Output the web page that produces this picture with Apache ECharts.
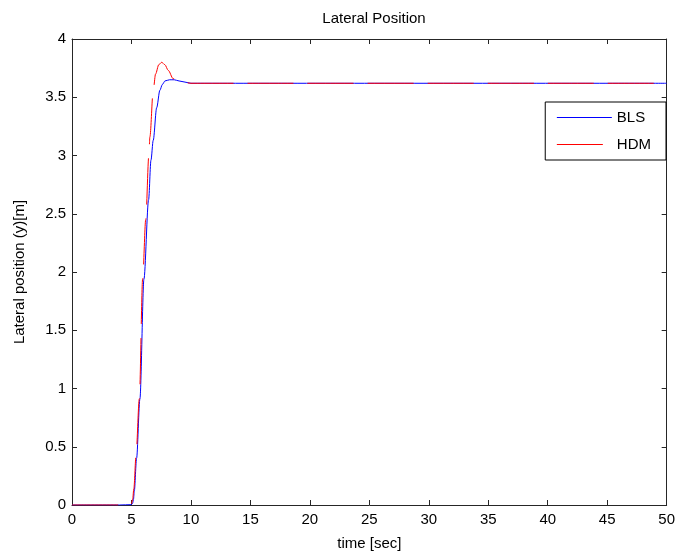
<!DOCTYPE html>
<html>
<head>
<meta charset="utf-8">
<script src="https://cdn.jsdelivr.net/npm/echarts@6/dist/echarts.min.js"></script>
<style>html,body{margin:0;padding:0;background:#fff;}#c{width:678px;height:556px;}</style>
</head>
<body>
<div id="c"></div>
<script>
var chartTitle = 'Lateral Position';
var seriesNames = ['BLS', 'HDM'];
var xName = 'time [sec]';
var yName = 'Lateral position (y)[m]';

var blsTime = [0, 4.0, 5.0, 5.1, 5.17, 5.24, 5.43, 5.71, 6.05, 6.44, 6.64, 6.83, 7.12, 7.39, 7.6, 7.82, 8.2, 8.6, 9.0, 9.5, 10, 50];
var blsPos  = [0, 0, 0.003, 0.015, 0.05, 0.12, 0.40, 0.91, 1.94, 2.62, 2.96, 3.13, 3.41, 3.56, 3.61, 3.64, 3.65, 3.65, 3.64, 3.63, 3.62, 3.62];

var hdmTime = [0, 4.8, 5.0, 5.1, 5.2, 5.38, 5.66, 5.94, 6.2, 6.46, 6.55, 6.83, 7.03, 7.3, 7.54, 7.8, 8.1, 8.5, 8.93, 9.3, 10, 50];
var hdmPos  = [0, 0, 0.01, 0.05, 0.14, 0.42, 0.91, 1.94, 2.45, 3.0, 3.16, 3.56, 3.70, 3.78, 3.80, 3.78, 3.73, 3.66, 3.64, 3.63, 3.62, 3.62];

function pairs(xs, ys) { return xs.map(function (x, i) { return [x, ys[i]]; }); }

var FONT = 'Liberation Sans, Arial, sans-serif';
var frameLine = { show: true, onZero: false, lineStyle: { color: '#262626', width: 1 } };
var tickIn = { show: true, inside: true, length: 5, lineStyle: { color: '#262626', width: 1 } };

var chart = echarts.init(document.getElementById('c'));
chart.setOption({
  animation: false,
  backgroundColor: '#fff',
  title: {
    text: chartTitle, left: 369, top: 6, textAlign: 'center',
    textStyle: { fontFamily: FONT, fontSize: 15, fontWeight: 'normal', color: '#000' }
  },
  grid: { left: 72, right: 11, top: 39, bottom: 49, containLabel: false },
  legend: {
    data: [
      { name: seriesNames[0], lineStyle: { color: '#0000ff', width: 1.2 } },
      { name: seriesNames[1], lineStyle: { color: '#ff0000', width: 1.2, type: [46, 14] } }
    ],
    orient: 'vertical', right: 12, top: 102,
    padding: [8, 15, 8, 11], itemGap: 12, itemWidth: 55, itemHeight: 14,
    itemStyle: { opacity: 0 },
    borderColor: '#000', borderWidth: 1, backgroundColor: '#fff',
    textStyle: { fontFamily: FONT, fontSize: 15, color: '#000' }
  },
  xAxis: [{
    type: 'value', min: 0, max: 50, interval: 5, position: 'bottom',
    name: xName, nameLocation: 'middle', nameGap: 31,
    nameTextStyle: { fontFamily: FONT, fontSize: 15, color: '#000' },
    axisLine: frameLine, axisTick: tickIn, splitLine: { show: false },
    axisLabel: { fontFamily: FONT, fontSize: 15, color: '#000', margin: 7 }
  }, {
    type: 'value', min: 0, max: 50, interval: 5, position: 'top',
    axisLine: frameLine, axisTick: tickIn, splitLine: { show: false },
    axisLabel: { show: false }
  }],
  yAxis: [{
    type: 'value', min: 0, max: 4, interval: 0.5, position: 'left',
    name: yName, nameLocation: 'middle', nameGap: 45, nameRotate: 90,
    nameTextStyle: { fontFamily: FONT, fontSize: 15, color: '#000' },
    axisLine: frameLine, axisTick: tickIn, splitLine: { show: false },
    axisLabel: { fontFamily: FONT, fontSize: 15, color: '#000', margin: 6 }
  }, {
    type: 'value', min: 0, max: 4, interval: 0.5, position: 'right',
    axisLine: frameLine, axisTick: tickIn, splitLine: { show: false },
    axisLabel: { show: false }
  }],
  series: [{
    name: seriesNames[0], type: 'line', xAxisIndex: 0, yAxisIndex: 0,
    data: pairs(blsTime, blsPos), showSymbol: false, symbol: 'none',
    smooth: 0.3, smoothMonotone: 'x',
    lineStyle: { color: '#0000ff', width: 1 }, itemStyle: { color: '#0000ff' }
  }, {
    name: seriesNames[1], type: 'line', xAxisIndex: 0, yAxisIndex: 0,
    data: pairs(hdmTime, hdmPos), showSymbol: false, symbol: 'none',
    smooth: 0.3, smoothMonotone: 'x',
    lineStyle: { color: '#ff0000', width: 1, type: [46, 14] }, itemStyle: { color: '#ff0000' }
  }]
});
</script>
</body>
</html>
